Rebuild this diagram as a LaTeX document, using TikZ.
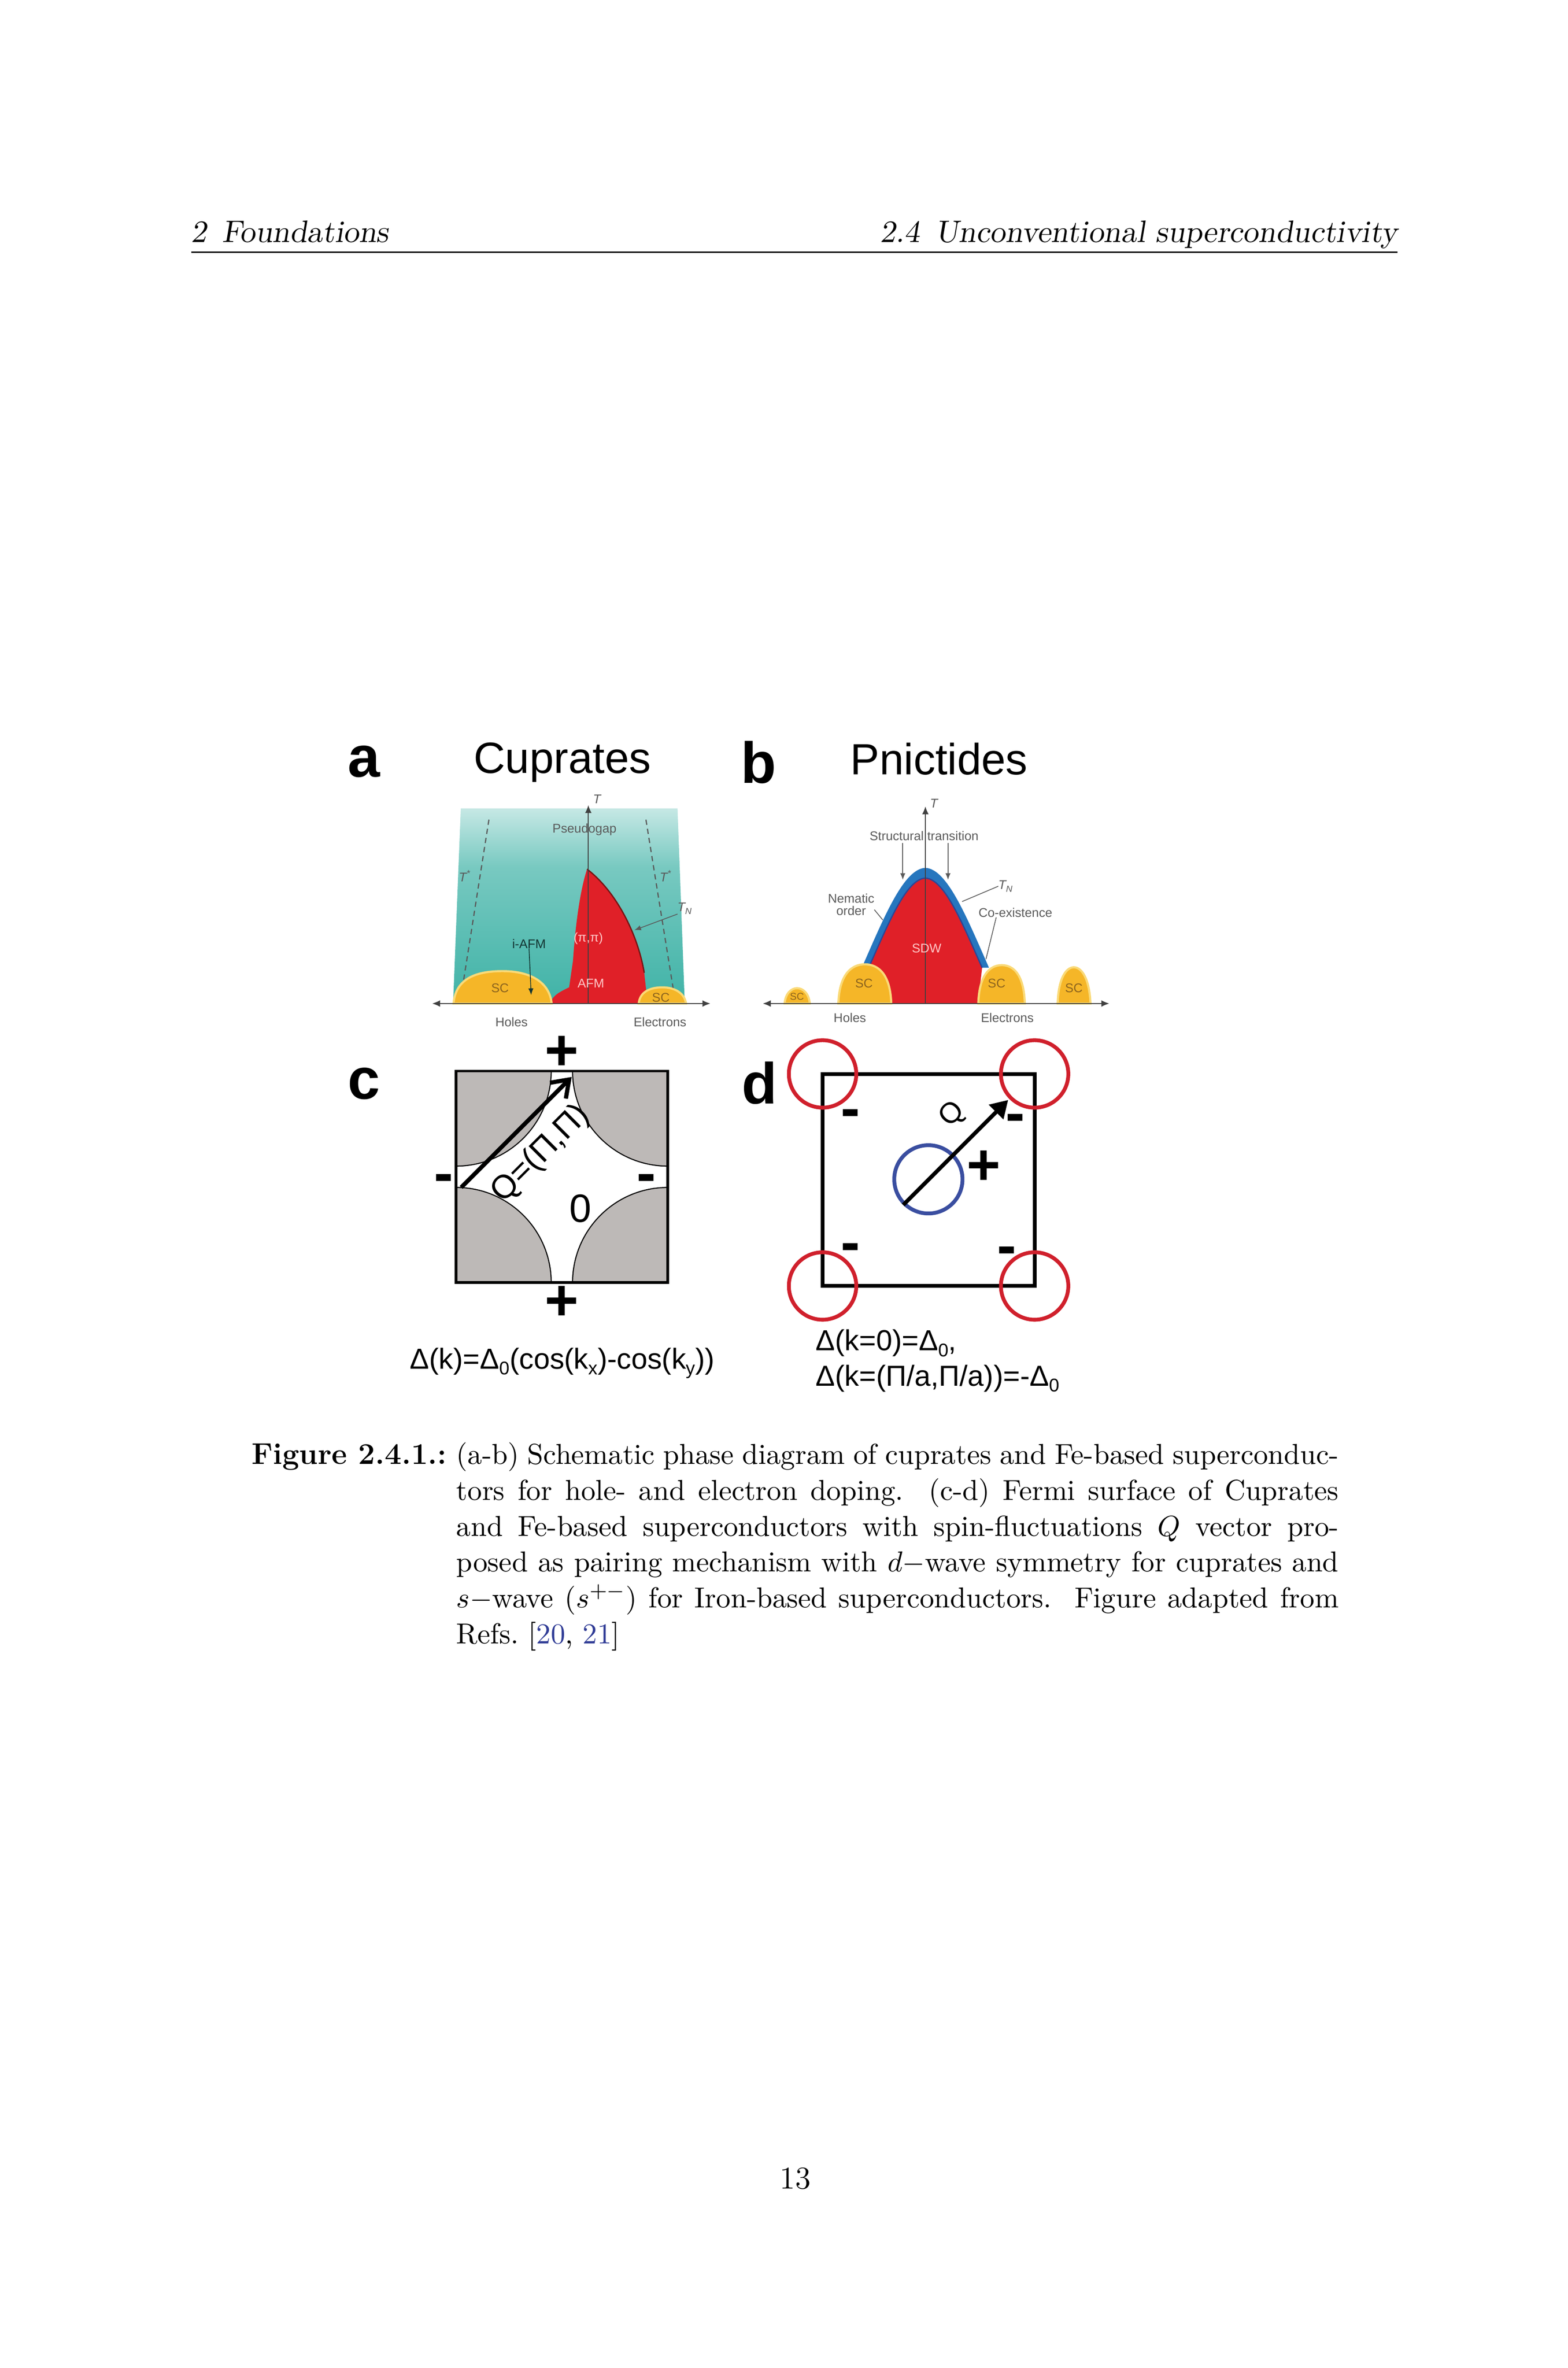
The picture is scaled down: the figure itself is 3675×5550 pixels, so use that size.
\documentclass[tikz,border=0pt]{standalone}
\usepackage{fontspec}
\newfontfamily\figfont{Liberation Sans}
\newfontfamily\slfont{lmromanslant10-regular.otf}
\usetikzlibrary{arrows.meta}
\definecolor{tealA}{RGB}{62,178,166}
\definecolor{tealB}{RGB}{28,176,188}
\definecolor{scY}{RGB}{245,182,40}
\definecolor{scRim}{RGB}{250,218,120}
\definecolor{afmR}{RGB}{224,32,40}
\definecolor{afmD}{RGB}{120,20,20}
\definecolor{nemB}{RGB}{38,118,190}
\definecolor{nemD}{RGB}{45,70,150}
\definecolor{greyFS}{RGB}{189,185,183}
\definecolor{ringR}{RGB}{208,32,44}
\definecolor{ringB}{RGB}{58,78,160}
\definecolor{citeB}{RGB}{48,60,150}
\definecolor{lblG}{RGB}{90,90,90}
\definecolor{lblSC}{RGB}{140,100,30}
\newcommand{\lsub}[1]{\raisebox{-2.3pt}{\fontsize{7}{8}\selectfont #1}}
\pgfdeclareverticalshading{tealshade}{100bp}{color(0bp)=(tealB); color(14bp)=(tealB); color(24bp)=(tealA); color(60bp)=(tealA!70!white); color(86bp)=(white); color(100bp)=(white)}
\begin{document}
\begin{tikzpicture}[x=0.162pt,y=-0.162pt,
  every node/.style={inner sep=0pt, outer sep=0pt},
  lblsmall/.style={font=\figfont\fontsize{4.8}{4.6}\selectfont, text=lblG},
  lblred/.style={font=\figfont\fontsize{4.8}{4.6}\selectfont, text=red!22!white},
  lblsc/.style={font=\figfont\fontsize{4.8}{4.6}\selectfont, text=lblSC},
  plabel/.style={font=\figfont\bfseries\fontsize{22}{26}\selectfont, anchor=base},
  ptitle/.style={font=\figfont\fontsize{16.6}{20}\selectfont, anchor=base},
  pmsign/.style={font=\figfont\bfseries\fontsize{22}{26}\selectfont, anchor=base},
  fmla/.style={font=\figfont\fontsize{11}{13.4}\selectfont},
  ldr/.style={draw=lblG, line width=0.3pt},
  phaxis/.style={draw=black!75, line width=0.35pt},
  smalltip/.style={-{Latex[length=2.5pt,width=2pt]}},
  tdash/.style={draw=black!65, line width=0.45pt, dash pattern=on 2pt off 1.5pt},
  dome/.style={fill=scY, draw=scRim, line width=0.8pt},
  bodyfont/.style={font=\fontsize{10.95}{13.6}\selectfont},
  bigfont/.style={font=\fontsize{12}{14.5}\selectfont},
]
\useasboundingbox (0,0) rectangle (3675,5550);
\fill[white] (0,0) rectangle (3675,5550);

% ---------------- running header ----------------
\node[anchor=base west, font=\slfont\fontsize{11.8}{14.5}\selectfont] (hl) at (448,568) {2\enskip Foundations};
\node[anchor=base east, font=\slfont\fontsize{11.8}{14.5}\selectfont] (hr) at (3276,568) {2.4\enskip Unconventional superconductivity};
\coordinate (rl) at (448,591);
\coordinate (rr) at (3276,591);
\draw[line width=0.45pt] (rl) -- (rr);

% ---------------- titles ----------------
\node[plabel] (la) at (853,1821) {a};
\node[ptitle] (ta) at (1318,1812) {Cuprates};
\node[plabel] (lb) at (1778,1835) {b};
\node[ptitle] (tb) at (2201,1815) {Pnictides};
\node[plabel] (lc) at (853,2576) {c};
\node[plabel] (ld) at (1780,2587) {d};

% ---------------- panel a ----------------
\shade[shading=tealshade] (1080,1895) -- (1588,1895) -- (1605,2352) -- (1062,2352) -- cycle;
\coordinate (tsl1) at (1146,1921); \coordinate (tsl2) at (1081,2333);
\coordinate (tsr1) at (1514,1921); \coordinate (tsr2) at (1579,2324);
\draw[tdash] (tsl1) -- (tsl2);
\draw[tdash] (tsr1) -- (tsr2);
\fill[afmR] (1376,2037) .. controls (1445,2090) and (1495,2190) .. (1510,2280) -- (1518,2352) -- (1290,2352)
  .. controls (1294,2332) and (1318,2322) .. (1334,2314) -- (1343,2252)
  .. controls (1350,2150) and (1362,2080) .. (1376,2037) -- cycle;
\draw[afmD, line width=0.5pt] (1376,2037) .. controls (1445,2090) and (1495,2190) .. (1510,2280);
\filldraw[dome] (1063,2352) .. controls (1068,2292) and (1118,2276) .. (1178,2276) .. controls (1240,2276) and (1288,2300) .. (1293,2352) -- cycle;
\filldraw[dome] (1497,2352) .. controls (1500,2322) and (1528,2314) .. (1552,2314) .. controls (1580,2314) and (1604,2326) .. (1608,2352) -- cycle;
\coordinate (aL) at (1013,2352); \coordinate (aR) at (1665,2352);
\coordinate (aO) at (1379,2352); \coordinate (aT) at (1379,1887);
\draw[phaxis, {Latex[length=3pt,width=2.5pt]}-{Latex[length=3pt,width=2.5pt]}] (aL) -- (aR);
\draw[phaxis, -{Latex[length=3pt,width=2.5pt]}] (aO) -- (aT);
\node[lblsmall, anchor=west] (aTl) at (1390,1873) {\itshape T};
\node[lblsmall] (pg) at (1370,1944) {Pseudogap};
\node[lblsmall] (tsl) at (1090,2053) {\itshape T\textsuperscript{*}};
\node[lblsmall] (tsr) at (1561,2053) {\itshape T\textsuperscript{*}};
\node[lblsmall, anchor=west] (tna) at (1588,2129) {\itshape T\textsubscript{N}};
\coordinate (tnaT) at (1487,2180);
\draw[ldr, smalltip] (tna.south west) -- (tnaT);
\node[lblsmall, text=black!70!tealA] (iafm) at (1240,2212) {i-AFM};
\coordinate (iafmT) at (1245,2332);
\draw[ldr, draw=black!70!tealA, smalltip] (iafm.south) -- (iafmT);
\node[lblred] (pipi) at (1379,2200) {(π,π)};
\node[lblred] (afm) at (1385,2305) {AFM};
\node[lblsc] (sca1) at (1172,2316) {SC};
\node[lblsc] (sca2) at (1549,2338) {SC};
\node[lblsmall] (holesA) at (1199,2395) {Holes};
\node[lblsmall] (elA) at (1547,2395) {Electrons};

% ---------------- panel b ----------------
\fill[nemB] (2020,2268) .. controls (2072,2150) and (2118,2036) .. (2169,2034) .. controls (2220,2036) and (2266,2150) .. (2318,2268) -- cycle;
\fill[afmR] (2036,2268) .. controls (2082,2165) and (2124,2060) .. (2169,2058) .. controls (2214,2060) and (2256,2165) .. (2302,2268) -- (2292,2352) -- (2086,2352) -- cycle;
\draw[nemD, line width=0.5pt] (2036,2268) .. controls (2082,2165) and (2124,2060) .. (2169,2058) .. controls (2214,2060) and (2256,2165) .. (2302,2268);
\filldraw[dome] (1965,2352) .. controls (1967,2285) and (1995,2260) .. (2027,2260) .. controls (2060,2260) and (2087,2285) .. (2089,2352) -- cycle;
\filldraw[dome] (2293,2352) .. controls (2295,2285) and (2320,2262) .. (2348,2262) .. controls (2376,2262) and (2400,2285) .. (2402,2352) -- cycle;
\filldraw[dome] (1839,2352) .. controls (1841,2328) and (1855,2316) .. (1868,2316) .. controls (1882,2316) and (1896,2328) .. (1898,2352) -- cycle;
\filldraw[dome] (2479,2352) .. controls (2481,2290) and (2500,2267) .. (2517,2267) .. controls (2534,2267) and (2553,2290) .. (2556,2352) -- cycle;
\coordinate (bL) at (1788,2352); \coordinate (bR) at (2600,2352);
\coordinate (bO) at (2169,2352); \coordinate (bT) at (2169,1890);
\draw[phaxis, {Latex[length=3pt,width=2.5pt]}-{Latex[length=3pt,width=2.5pt]}] (bL) -- (bR);
\draw[phaxis, -{Latex[length=3pt,width=2.5pt]}] (bO) -- (bT);
\node[lblsmall, anchor=west] (bTl) at (2180,1883) {\itshape T};
\node[lblsmall] (st) at (2166,1959) {Structural transition};
\coordinate (st1a) at (2116,1976); \coordinate (st1b) at (2116,2062);
\coordinate (st2a) at (2222,1976); \coordinate (st2b) at (2222,2062);
\draw[ldr, smalltip] (st1a) -- (st1b);
\draw[ldr, smalltip] (st2a) -- (st2b);
\node[lblsmall, align=center] (nem) at (1995,2120) {Nematic\\order};
\coordinate (nemT) at (2069,2156);
\draw[ldr] (nem.east) ++(0,12) -- (nemT);
\node[lblsmall, anchor=west] (tnb) at (2340,2077) {\itshape T\textsubscript{N}};
\coordinate (tnbT) at (2255,2113);
\draw[ldr] (tnb.west) -- (tnbT);
\node[lblsmall] (coex) at (2380,2139) {Co-existence};
\coordinate (coexT) at (2311,2248);
\draw[ldr] (coex.south) ++(-45,0) -- (coexT);
\node[lblred] (sdw) at (2172,2222) {SDW};
\node[lblsc] (scb1) at (2025,2305) {SC};
\node[lblsc] (scb2) at (2336,2305) {SC};
\node[lblsc, font=\figfont\fontsize{3.8}{4}\selectfont] (scb3) at (1868,2336) {SC};
\node[lblsc] (scb4) at (2517,2316) {SC};
\node[lblsmall] (holesB) at (1992,2385) {Holes};
\node[lblsmall] (elB) at (2361,2385) {Electrons};

% ---------------- panel c ----------------
\fill[greyFS] (1069,2510) rectangle (1565,3006);
\filldraw[fill=white, line width=0.4pt] (1292,2510) -- (1342,2510)
  arc[start angle=180,end angle=90,radius=223] -- (1565,2783)
  arc[start angle=270,end angle=180,radius=223] -- (1292,3006)
  arc[start angle=0,end angle=-90,radius=223] -- (1069,2733)
  arc[start angle=90,end angle=0,radius=223] -- cycle;
\draw[line width=1pt] (1069,2510) rectangle (1565,3006);
\coordinate (cQs) at (1081,2783);
\coordinate (cQe) at (1340,2524);
\draw[line width=1.6pt, -{Straight Barb[length=6pt,width=8.5pt]}] (cQs) -- (cQe);
\node[font=\figfont\fontsize{12.5}{14}\selectfont, rotate=45] (qlab) at (1268,2705) {Q=(Π,Π)};
\node[font=\figfont\fontsize{15}{18}\selectfont] (zero) at (1360,2832) {0};
\node[pmsign] (cpT) at (1317,2508) {+};
\node[pmsign] (cpB) at (1317,3094) {+};
\node[pmsign] (cmL) at (1040,2796) {-};
\node[pmsign] (cmR) at (1515,2796) {-};
\node[fmla, anchor=base] (fc) at (1318,3208) {Δ(k)=Δ\lsub{0}(cos(k\lsub{x})-cos(k\lsub{y}))};

% ---------------- panel d ----------------
\draw[line width=1.45pt] (1928,2517) rectangle (2425,3014);
\draw[ringR, line width=1.45pt] (1928,2517) circle[radius=79];
\draw[ringR, line width=1.45pt] (2425,2517) circle[radius=79];
\draw[ringR, line width=1.45pt] (1928,3014) circle[radius=79];
\draw[ringR, line width=1.45pt] (2425,3014) circle[radius=79];
\draw[ringB, line width=1.45pt] (2176,2764) circle[radius=80];
\coordinate (dQs) at (2117,2824);
\coordinate (dQe) at (2363,2578);
\draw[line width=1.5pt, -{Triangle[length=6.5pt,width=7.5pt]}] (dQs) -- (dQe);
\node[font=\figfont\fontsize{11}{13}\selectfont, rotate=45] (qd) at (2233,2613) {Q};
\node[pmsign] (dm1) at (1993,2643) {-};
\node[pmsign] (dm2) at (2380,2654) {-};
\node[pmsign] (dm3) at (1993,2958) {-};
\node[pmsign] (dm4) at (2360,2965) {-};
\node[pmsign] (dp) at (2306,2777) {+};
\node[fmla, anchor=base west] (fd1) at (1912,3165) {Δ(k=0)=Δ\lsub{0},};
\node[fmla, anchor=base west] (fd2) at (1912,3248) {Δ(k=(Π/a,Π/a))=-Δ\lsub{0}};

% ---------------- caption ----------------
\node[anchor=base west, font=\fontsize{11.4}{14}\selectfont\bfseries] (figl) at (590,3432) {Figure 2.4.1.:};
\node[anchor=base west, bodyfont] (cap) at (1070,3432) {\parbox[t]{335pt}{%
\makebox[335pt][s]{(a-b) Schematic phase diagram of cuprates and Fe-based superconduc-}\\
\makebox[335pt][s]{tors for hole- and electron doping.\ \ (c-d) Fermi surface of Cuprates}\\
\makebox[335pt][s]{and Fe-based superconductors with spin-fluctuations $Q$ vector pro-}\\
\makebox[335pt][s]{posed as pairing mechanism with $d-$wave symmetry for cuprates and}\\
\makebox[335pt][s]{$s-$wave ($s^{+-}$) for Iron-based superconductors.\ \ Figure adapted from}\\
Refs.~[\textcolor{citeB}{20}, \textcolor{citeB}{21}]}};

% ---------------- page number ----------------
\node[anchor=base, bigfont] (pnum) at (1864,5130) {13};
\end{tikzpicture}
\end{document}
